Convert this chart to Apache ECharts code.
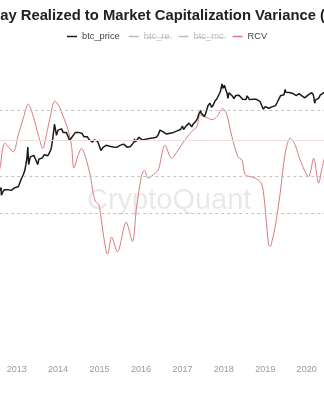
<!DOCTYPE html>
<html><head><meta charset="utf-8">
<script src="https://cdn.jsdelivr.net/npm/echarts@6/dist/echarts.min.js"></script>
<style>html,body{margin:0;padding:0;background:#fff;overflow:hidden}#c{width:324px;height:400px}</style>
</head><body><div id="c"></div>
<script>
const titleText = '365-day Realized to Market Capitalization Variance (RCV)';
const watermarkText = 'CryptoQuant';
const seriesNames = ['btc_price', 'btc_re', 'btc_mc', 'RCV'];
const hiddenSeries = ['btc_re', 'btc_mc'];
const xRange = ['2012-01-01', '2021-01-01'];

const btcPrice = [
['2012-06-01',5.3],['2012-06-15',6.5],['2012-07-01',6.7],['2012-07-15',8.8],['2012-08-01',9.4],['2012-08-16',13.5],['2012-08-19',8.0],
['2012-09-01',10.2],['2012-09-15',11.8],['2012-10-01',12.4],['2012-10-15',11.8],['2012-11-01',10.6],['2012-11-15',11.2],['2012-12-01',12.6],['2012-12-15',13.5],
['2013-01-01',13.3],['2013-01-15',14.4],['2013-02-01',20.4],['2013-02-15',27],['2013-03-01',34],['2013-03-15',47],['2013-04-01',104],['2013-04-09',230],['2013-04-16',68],
['2013-05-01',116],['2013-05-15',114],['2013-06-01',129],['2013-06-15',100],['2013-07-05',68],['2013-07-15',98],['2013-08-01',104],['2013-08-15',108],
['2013-09-01',135],['2013-09-15',126],['2013-10-01',125],['2013-10-15',150],['2013-11-01',205],['2013-11-15',420],['2013-11-30',1130],['2013-12-04',1150],['2013-12-18',520],['2013-12-31',750],
['2014-01-15',860],['2014-02-01',820],['2014-02-15',630],['2014-03-01',560],['2014-03-15',630],['2014-04-01',470],['2014-04-11',360],['2014-05-01',450],['2014-05-15',450],
['2014-06-01',630],['2014-06-15',590],['2014-07-01',640],['2014-07-15',620],['2014-08-01',590],['2014-08-18',470],['2014-09-01',478],['2014-09-15',475],
['2014-10-01',385],['2014-10-15',390],['2014-11-01',325],['2014-11-15',380],['2014-12-01',380],['2014-12-15',345],
['2015-01-01',315],['2015-01-14',180],['2015-02-01',225],['2015-02-15',235],['2015-03-01',260],['2015-03-15',285],['2015-04-01',245],['2015-04-15',220],
['2015-05-01',232],['2015-05-15',237],['2015-06-01',225],['2015-06-15',235],['2015-07-01',258],['2015-07-15',285],['2015-08-01',282],['2015-08-15',260],
['2015-09-01',228],['2015-09-15',230],['2015-10-01',238],['2015-10-15',255],['2015-11-01',325],['2015-11-04',400],['2015-11-15',330],['2015-12-01',360],['2015-12-15',455],
['2016-01-01',430],['2016-01-15',375],['2016-02-01',370],['2016-02-15',400],['2016-03-01',435],['2016-03-15',415],['2016-04-01',417],['2016-04-15',430],
['2016-05-01',450],['2016-05-15',455],['2016-06-01',535],['2016-06-17',750],['2016-07-01',675],['2016-07-15',665],['2016-08-01',605],['2016-08-15',570],
['2016-09-01',575],['2016-09-15',605],['2016-10-01',615],['2016-10-15',640],['2016-11-01',730],['2016-11-15',710],['2016-12-01',755],['2016-12-15',780],
['2017-01-01',1000],['2017-01-11',780],['2017-02-01',990],['2017-02-15',1010],['2017-03-01',1220],['2017-03-15',1250],['2017-03-24',940],['2017-04-01',1090],['2017-04-15',1180],
['2017-05-01',1420],['2017-05-15',1720],['2017-05-25',2300],['2017-06-01',2400],['2017-06-12',2950],['2017-06-15',2450],['2017-07-01',2500],['2017-07-15',1950],
['2017-08-01',2870],['2017-08-15',4200],['2017-09-01',4900],['2017-09-15',3700],['2017-10-01',4400],['2017-10-15',5700],['2017-11-01',6700],['2017-11-12',5900],['2017-11-15',7300],
['2017-12-01',10900],['2017-12-17',19100],['2017-12-22',13800],['2017-12-31',13800],
['2018-01-06',17100],['2018-01-15',13600],['2018-02-01',9100],['2018-02-06',6900],['2018-02-15',10100],['2018-03-01',11000],['2018-03-15',8250],['2018-04-01',6800],['2018-04-15',8350],
['2018-05-01',9250],['2018-05-15',8500],['2018-06-01',7500],['2018-06-15',6500],['2018-07-01',6400],['2018-07-15',6350],['2018-07-25',8200],['2018-08-01',7600],['2018-08-15',6300],
['2018-09-01',7200],['2018-09-15',6500],['2018-10-01',6600],['2018-10-15',6450],['2018-11-01',6350],['2018-11-15',5600],['2018-12-01',4200],['2018-12-15',3250],
['2019-01-01',3850],['2019-01-15',3600],['2019-02-01',3450],['2019-02-15',3600],['2019-03-01',3800],['2019-03-15',3900],['2019-04-01',4150],['2019-04-15',5050],
['2019-05-01',5350],['2019-05-15',8200],['2019-06-01',8550],['2019-06-15',8800],['2019-06-26',12900],['2019-07-01',10600],['2019-07-15',11000],['2019-08-01',10400],['2019-08-15',10300],
['2019-09-01',9700],['2019-09-15',10300],['2019-10-01',8300],['2019-10-15',8150],['2019-10-26',9550],['2019-11-01',9150],['2019-11-15',8450],['2019-12-01',7400],['2019-12-15',7100],
['2020-01-01',7200],['2020-01-15',8800],['2020-02-01',9400],['2020-02-15',10300],['2020-03-01',8600],['2020-03-12',4900],['2020-03-20',6200],['2020-04-01',6600],['2020-04-15',6900],
['2020-05-01',8800],['2020-05-15',9300],['2020-06-01',10200],['2020-06-15',9400]
];

const rcv = [
['2012-07-01',-1.2],['2012-08-06',-0.77],['2012-09-19',-0.09],['2012-12-01',-0.32],['2013-01-15',0.14],['2013-02-28',0.59],['2013-04-13',0.98],
['2013-05-27',0.64],['2013-07-10',0.14],['2013-08-18',-0.23],['2013-09-22',0.18],['2013-10-21',0.59],['2013-12-03',1.06],['2014-01-11',0.91],
['2014-02-15',0.64],['2014-03-31',0.27],['2014-04-30',-0.18],['2014-05-20',-0.77],['2014-06-27',-0.41],['2014-07-27',-0.23],['2014-08-25',-0.41],
['2014-09-23',-0.73],['2014-10-14',-1.0],['2014-11-06',-1.45],['2014-11-27',-1.68],['2014-12-26',-1.77],['2015-01-13',-2.09],['2015-02-02',-2.54],
['2015-03-04',-3.09],['2015-03-14',-3.11],['2015-04-17',-2.65],['2015-06-08',-3.05],['2015-08-24',-2.24],['2015-10-18',-2.77],['2015-11-24',-1.83],
['2016-01-07',-0.97],['2016-02-01',-0.83],['2016-03-05',-1.04],['2016-04-19',-0.95],['2016-06-02',-0.82],['2016-07-31',-0.14],['2016-09-28',-0.5],
['2016-11-25',-0.27],['2017-01-23',0.0],['2017-03-24',0.23],['2017-05-08',0.36],['2017-06-06',0.68],['2017-07-04',0.64],['2017-08-18',0.59],
['2017-09-19',0.55],['2017-11-02',0.64],['2017-12-22',0.86],['2018-01-28',0.68],['2018-03-13',0.09],['2018-05-05',-0.46],['2018-06-10',-0.55],
['2018-07-08',-0.95],['2018-08-21',-1.0],['2018-10-04',-1.04],['2018-11-26',-1.18],['2018-12-17',-1.45],['2019-01-07',-2.09],['2019-01-31',-2.86],
['2019-02-16',-2.9],['2019-03-01',-2.77],['2019-03-30',-2.36],['2019-05-13',-1.45],['2019-06-26',-0.36],['2019-08-09',0.05],['2019-09-22',-0.14],
['2019-11-05',-0.55],['2020-01-18',-1.0],['2020-03-03',-0.5],['2020-04-16',-1.18],['2020-05-15',-0.77],['2020-06-15',-0.4]
];

const rcvGuideLevels = [0.82, -1, -2];
const rcvZeroLevel = 0;

const strike = s => s.split('').map(c => c + '\u0336').join('');
const chart = echarts.init(document.getElementById('c'), null, {renderer: 'canvas'});
const FONT = '"Liberation Sans", Arial, sans-serif';
const DAY = 86400000;

chart.setOption({
  animation: false,
  backgroundColor: '#fff',
  textStyle: {fontFamily: FONT},
  title: {
    text: titleText, left: -43.5, top: 3,
    textStyle: {fontSize: 14.8, fontWeight: 'bold', color: '#222', fontFamily: FONT}
  },
  legend: {
    data: seriesNames, top: 27, left: 62, icon: 'rect', itemWidth: 10, itemHeight: 1.5, itemGap: 9,
    textStyle: {fontSize: 9.3, color: '#444', fontFamily: FONT},
    inactiveColor: '#bbb',
    selected: Object.fromEntries(hiddenSeries.map(n => [n, false])),
    formatter: n => hiddenSeries.includes(n) ? strike(n) : n
  },
  graphic: [{
    type: 'text', left: 87, top: 186, z: 0, silent: true,
    style: {text: watermarkText, fontSize: 29, fontFamily: FONT, fill: 'rgba(0,0,0,0.09)'}
  }],
  grid: {left: -24.81, right: -24.15, top: 60, bottom: 43, outerBoundsMode: 'none', containLabel: false},
  xAxis: {
    type: 'time', min: xRange[0], max: xRange[1], splitNumber: 9,
    minInterval: 365 * DAY, maxInterval: 366 * DAY,
    axisLine: {lineStyle: {color: '#e4e4e4'}},
    axisTick: {show: false},
    splitLine: {show: false},
    axisLabel: {color: '#999', fontSize: 9, margin: 8, formatter: v => String(new Date(v).getFullYear())}
  },
  yAxis: [
    {type: 'log', logBase: 10, min: 1e-4, max: 1e5, show: false, splitLine: {show: false}},
    {type: 'value', min: -5.92, max: 2.18, show: false, splitLine: {show: false}}
  ],
  series: [
    {name: 'btc_price', type: 'line', yAxisIndex: 0, data: btcPrice, showSymbol: false, symbol: 'none',
     lineStyle: {color: '#1a1a1a', width: 1.5}, itemStyle: {color: '#1a1a1a'}, z: 4},
    {name: 'btc_re', type: 'line', yAxisIndex: 0, data: [], showSymbol: false, symbol: 'none',
     lineStyle: {color: '#7cb5ec', width: 1}, itemStyle: {color: '#7cb5ec'}},
    {name: 'btc_mc', type: 'line', yAxisIndex: 0, data: [], showSymbol: false, symbol: 'none',
     lineStyle: {color: '#90ed7d', width: 1}, itemStyle: {color: '#90ed7d'}},
    {name: 'RCV', type: 'line', yAxisIndex: 1, data: rcv, showSymbol: false, symbol: 'none', smooth: 0.3,
     lineStyle: {color: '#d97b7b', width: 1}, itemStyle: {color: '#d97b7b'}, z: 3,
     markLine: {
       silent: true, symbol: ['none', 'none'], label: {show: false}, animation: false,
       data: rcvGuideLevels.map(v => ({yAxis: v, lineStyle: {color: '#c4c4c4', type: [3, 3], width: 1}}))
         .concat([{yAxis: rcvZeroLevel, lineStyle: {color: '#eee0e0', type: 'solid', width: 1}}])
     }}
  ]
});
</script></body></html>
